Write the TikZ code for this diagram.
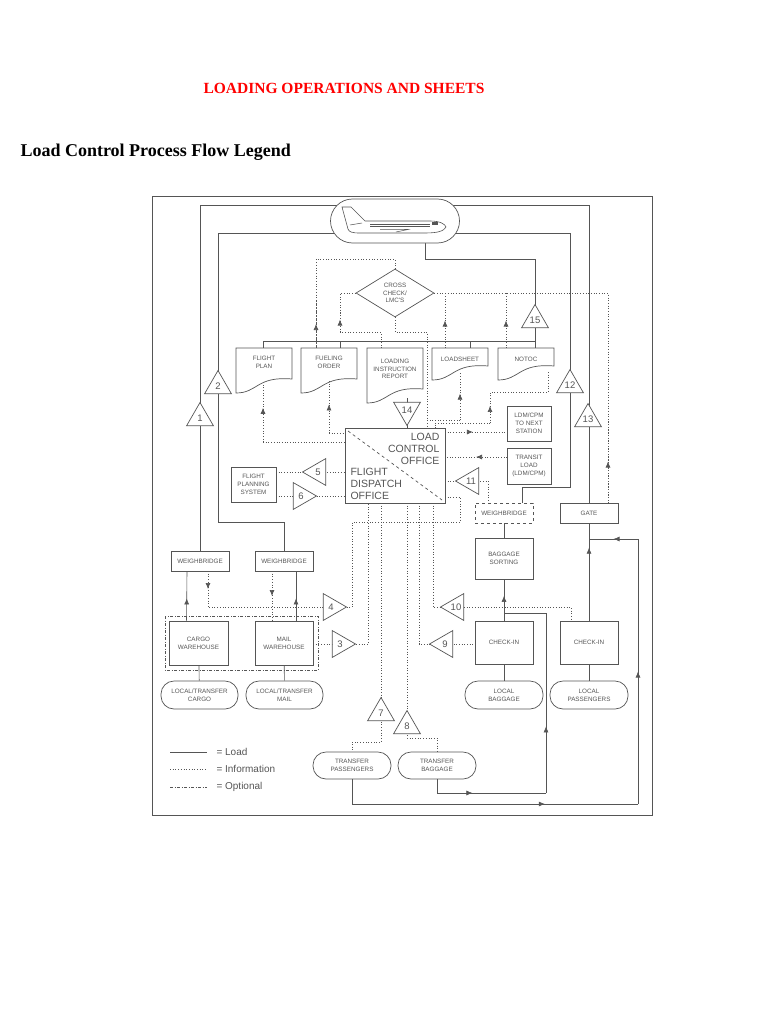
\documentclass[tikz,border=0pt]{standalone}
\usepackage{fontspec}
\setmainfont{Liberation Serif}
\newfontfamily\dsans{Liberation Sans}
\usetikzlibrary{shapes.geometric,decorations.markings,arrows.meta}
\definecolor{ln}{HTML}{555555}
\begin{document}
\begin{tikzpicture}[x=1pt,y=-1pt,
  load/.style={draw=ln,line width=0.6pt},
  info/.style={draw=ln,line width=0.7pt,dotted},
  arr/.style={postaction={decorate},decoration={markings,mark=at position #1 with {\arrow[ln]{Latex[length=6pt,width=5pt]}}}},
  box/.style={draw=ln,line width=0.7pt,fill=white,align=center,inner sep=0pt,font=\dsans\fontsize{6.3}{7.8}\selectfont,text=ln},
  pill/.style={box,rounded corners=13pt},
  tri/.style={regular polygon,regular polygon sides=3,draw=ln,line width=0.7pt,fill=white,minimum size=31pt,inner sep=0pt,font=\dsans\fontsize{9.5}{9.5}\selectfont,text=ln},
  up/.style={tri},
  dn/.style={tri,shape border rotate=180},
  lt/.style={tri,shape border rotate=90},
  rt/.style={tri,shape border rotate=-90},
  doc/.style={draw=ln,line width=0.7pt,fill=white},
  dtext/.style={font=\dsans\fontsize{6.3}{7.8}\selectfont,text=ln,align=center}]
\useasboundingbox (0,0) rectangle (768,1024);
\node[text=red,font=\bfseries\fontsize{15.5}{17}\selectfont] (title) at (344,88) {LOADING OPERATIONS AND SHEETS};
\node[anchor=west,font=\bfseries\fontsize{18}{20}\selectfont] (sub) at (17,152) {Load Control Process Flow Legend};
\draw[line width=0.8pt,color=ln] (152,196) rectangle (652,815);

% ---- nodes (boxes) ----
\node[box,minimum width=58pt,minimum height=20pt] (wb1) at (200,561) {WEIGHBRIDGE};
\node[box,minimum width=58pt,minimum height=20pt] (wb2) at (284,561) {WEIGHBRIDGE};
\node[box,minimum width=58pt,minimum height=20pt,dashed] (wb3) at (504,513) {WEIGHBRIDGE};
\node[box,minimum width=58pt,minimum height=20pt] (gate) at (589,513) {GATE};
\node[box,minimum width=58pt,minimum height=41pt] (bs) at (504,558.5) {BAGGAGE\\SORTING};
\node[box,minimum width=58pt,minimum height=43pt] (ci1) at (504,642.5) {CHECK-IN};
\node[box,minimum width=58pt,minimum height=43pt] (ci2) at (589,642.5) {CHECK-IN};
\node[box,minimum width=59pt,minimum height=44pt] (cw) at (198.5,643) {CARGO\\WAREHOUSE};
\node[box,minimum width=58pt,minimum height=44pt] (mw) at (284,643) {MAIL\\WAREHOUSE};
\node[box,minimum width=45pt,minimum height=35pt] (fps) at (253.5,484.5) {FLIGHT\\PLANNING\\SYSTEM};
\node[box,minimum width=44pt,minimum height=35pt] (ldm) at (529,423.5) {LDM/CPM\\TO NEXT\\STATION};
\node[box,minimum width=44pt,minimum height=36pt] (tl) at (529,466) {TRANSIT\\LOAD\\(LDM/CPM)};
\node[box,minimum width=100pt,minimum height=75pt] (lco) at (395,465.5) {};
\node[box,diamond,minimum width=78pt,minimum height=48pt,aspect=1.6] (cc) at (395,293) {CROSS\\CHECK/\\LMC'S};
\node[pill,minimum width=77pt,minimum height=28pt] (lc) at (199.5,695) {LOCAL/TRANSFER\\CARGO};
\node[pill,minimum width=77pt,minimum height=28pt] (lm) at (284.5,695) {LOCAL/TRANSFER\\MAIL};
\node[pill,minimum width=78pt,minimum height=28pt] (lb) at (504,695) {LOCAL\\BAGGAGE};
\node[pill,minimum width=78pt,minimum height=28pt] (lp) at (589,695) {LOCAL\\PASSENGERS};
\node[pill,minimum width=78pt,minimum height=27pt] (tp) at (352,765.5) {TRANSFER\\PASSENGERS};
\node[pill,minimum width=78pt,minimum height=27pt] (tb) at (437,765.5) {TRANSFER\\BAGGAGE};

% ---- load lines ----
\draw[load] (lp) -- (ci2);
\draw[load,arr=0.75] (ci2.north) -- (gate.south);
\draw[load] (gate.north) -- (589,205) -| (wb1.north);
\draw[load,arr=0.45] ([xshift=-12pt]cw.north) -- ([xshift=-13pt]wb1.south);
\draw[load] (lc) -- (cw);
\draw[load] (lm) -- (mw);
\draw[load,arr=0.45] ([xshift=12pt]mw.north) -- ([xshift=12pt]wb2.south);
\draw[load] (lb) -- (ci1);
\draw[load,arr=0.6] (ci1.north) -- (bs.south);
\draw[load] (bs) -- (wb3);
\draw[load] ([xshift=18pt]wb3.north) |- (570,487) -- (570,233) -- (218,233) -- (218,522) -| (wb2.north);
\draw[load] (425,243) -- (425,259) -| (535,341) -- (263,341);
\coordinate (fpt) at (263,348); \coordinate (fot) at (340,348);
\coordinate (lst) at (470,348); \coordinate (ntt) at (535,348);
\draw[load] (263,341) -- (fpt); \draw[load] (340,341) -- (fot);
\draw[load] (470,341) -- (lst); \draw[load] (535,341) -- (ntt);
\coordinate (lcotop) at (407,428);
\draw[load] (407,398) -- (lcotop);
\draw[load,arr=0.7] (tp.south) |- (638,804);
\draw[load,arr=0.5] (638,804) -- (638,539);
\draw[load,arr=0.5] (638,539) -- (589,539);
\draw[load,arr=0.4] (tb.south) |- (546,793);
\draw[load,arr=0.3] (546,793) -- (546,613) -- (504,613);

% ---- documents ----
\foreach \n/\xa/\xb/\yl/\txt/\ty in {fp/236/292/393/{FLIGHT\\PLAN}/362, fo/301/357/393/{FUELING\\ORDER}/362, lir/367/423/403/{LOADING\\INSTRUCTION\\REPORT}/369, ls/432/488/380/{LOADSHEET}/359, nt/498/554/380/{NOTOC}/359}{
  \draw[doc] (\xa,348) -- (\xb,348) -- (\xb,\yl-14) .. controls (\xa+20,\yl-17) and (\xa+22,\yl) .. (\xa,\yl) -- cycle;
  \node[dtext] (\n) at ({(\xa+\xb)/2},\ty) {\txt};
}

% ---- info lines ----
\draw[info] (cc.north) -- (395,259) -| (316,348);
\draw[info,arr=0.5] (316,348) -- (316,300);
\draw[info] (381,348) -- (381,332) -- (340,332) -- (340,293) -- (cc.west);
\draw[info,arr=0.5] (340,332) -- (340,307);
\draw[info] (cc.east) -- (608,293) -- (608,503);
\draw[info,arr=0.5] (608,503) -- (608,420);
\draw[info,arr=0.5] (445,348) -- (445,293);
\draw[info,arr=0.5] (506,348) -- (506,293);
\draw[info] (cc.south) -- (395,332) -- (427,332) -- (427,428);
\draw[info,arr=0.6] (263,442) -- (263,385);
\draw[info] (263,442) -- (345,442);
\draw[info,arr=0.55] (329,433) -- (329,381);
\draw[info] (329,433) -- (345,433);
\draw[info,arr=0.55] (460,420) -- (460,372);
\draw[info] (460,420) -- (427,420);
\draw[info] (548,372) -- (548,392) -- (490,392);
\draw[info,arr=0.55] (490,423) -- (490,392);
\draw[info] (490,423) -- (435,423) -- (435,428);
\coordinate (ldmin) at (507,432);
\coordinate (tlout) at (507,457);
\draw[info,arr=0.45] (445,432) -- (ldmin);
\draw[info,arr=0.5] (tlout) -- (445,457);
\draw[info] (445,481) -- (488,481) -- (488,503);
\draw[info] (276,472) -- (345,472);
\draw[info] (276,496) -- (345,496);
\draw[info] (445,497) -- (460,497) -- (460,522) -- (352,522) -- (352,607) -- (208,607);
\draw[info,arr=0.5] (208,571) -- (208,607);
\draw[info,arr=0.5] (272,571) -- (272,621);
\draw[info] (313,644) -- (368,644) -- (368,503);
\draw[info] (381,503) -- (381,742) -- (352,742) -- (tp.north);
\draw[info] (407,503) -- (407,738) -- (437,738) -- (tb.north);
\draw[info] (419,503) -- (419,644) -- (475,644);
\draw[info] (433,503) -- (433,607) -- (571,607) -- (571,621);
\draw[draw=ln,line width=0.7pt,dash pattern=on 3pt off 1.5pt on 1pt off 1.5pt] (165,616) rectangle (318,670);

% ---- LCO text ----
\draw[ln,line width=0.7pt,dashed] (348,431) -- (442,500);
\node[anchor=north east,align=right,font=\dsans\fontsize{10.5}{12}\selectfont,text=ln] (lcot) at (443,430) {LOAD\\CONTROL\\OFFICE};
\node[anchor=south west,align=left,font=\dsans\fontsize{10.5}{12}\selectfont,text=ln] (fdot) at (347,503) {FLIGHT\\DISPATCH\\OFFICE};

% ---- triangles ----
\node[up] (t1) at (200,418) {1};
\node[up] (t2) at (218,386) {2};
\node[up] (t12) at (570,385) {12};
\node[up] (t13) at (588,419) {13};
\node[up] (t15) at (535,320) {15};
\node[dn] (t14) at (407,410) {14};
\node[lt] (t5) at (318,472) {5};
\node[rt] (t6) at (301,496) {6};
\node[lt] (t11) at (471,481) {11};
\node[rt] (t4) at (331,607) {4};
\node[rt] (t3) at (340,644) {3};
\node[lt] (t10) at (456,607) {10};
\node[lt] (t9) at (445,644) {9};
\node[up] (t7) at (381,713) {7};
\node[up] (t8) at (407,726) {8};

% ---- aircraft ----
\node[pill,rounded corners=22pt,minimum width=129pt,minimum height=44pt] (plane) at (395,221) {};
\draw[ln,line width=0.6pt,fill=white] (348,229) -- (342,207) -- (351,207) -- (365,221) -- (430,221)
  .. controls (440,221) and (445,224) .. (446,227) .. controls (444,231) and (438,233) .. (425,233)
  -- (360,233) .. controls (352,233) and (349,232) .. (348,229) -- cycle;
\draw[ln,line width=0.5pt] (370,224) -- (430,224) (370,226.5) -- (430,226.5);
\draw[ln,line width=0.5pt] (350,225) -- (362,223);
\draw[ln,line width=0.5pt] (380,229.5) -- (408,229.5) -- (396,232);
\draw[ln,fill=ln] (432,222.5) rectangle (437,224.5);

% ---- legend ----
\draw[load] (170,752) -- (207,752);
\draw[info] (170,769) -- (207,769);
\draw[draw=ln,line width=0.7pt,dash pattern=on 3pt off 1.5pt on 1pt off 1.5pt] (170,787) -- (207,787);
\node[anchor=west,font=\dsans\fontsize{10}{11}\selectfont,text=ln] (lg1) at (213,752) {= Load};
\node[anchor=west,font=\dsans\fontsize{10}{11}\selectfont,text=ln] (lg2) at (213,769) {= Information};
\node[anchor=west,font=\dsans\fontsize{10}{11}\selectfont,text=ln] (lg3) at (213,787) {= Optional};
\end{tikzpicture}
\end{document}
